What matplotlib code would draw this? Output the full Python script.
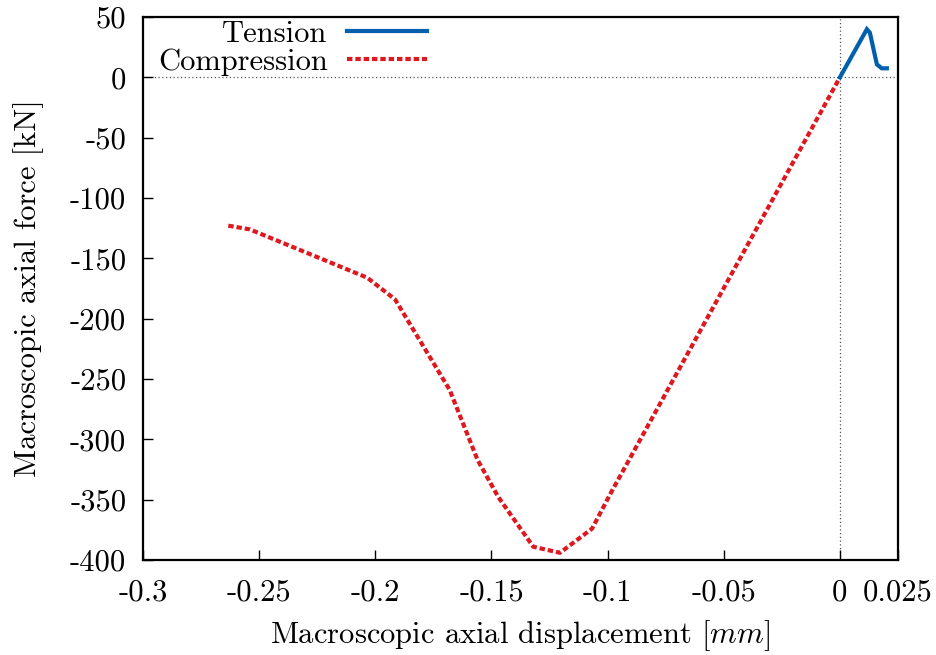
import matplotlib
matplotlib.use('Agg')
import matplotlib.pyplot as plt

plt.rcParams['font.family'] = 'serif'
plt.rcParams['font.serif'] = ['cmr10', 'DejaVu Serif']
plt.rcParams['mathtext.fontset'] = 'cm'
plt.rcParams['axes.unicode_minus'] = False

# Данные кривых (читаются с графика)
tension_x = [0.0, 0.0116, 0.0129, 0.0159, 0.0180, 0.0202]
tension_y = [0.0, 39.9, 37.0, 10.8, 7.5, 7.5]

compression_x = [-0.2633, -0.254, -0.2035, -0.1915, -0.168, -0.156, -0.147,
                 -0.132, -0.1205, -0.1067, -0.0985, 0.0]
compression_y = [-122.9, -126.0, -166.0, -184.0, -259.0, -317.0, -348.0,
                 -389.0, -394.0, -374.0, -344.0, 0.0]

x_ticks = [-0.3, -0.25, -0.2, -0.15, -0.1, -0.05, 0.0, 0.025]
x_tick_labels = ['-0.3', '-0.25', '-0.2', '-0.15', '-0.1', '-0.05', '0', '0.025']
y_ticks = [-400, -350, -300, -250, -200, -150, -100, -50, 0, 50]
y_tick_labels = [str(v) for v in y_ticks]

fig = plt.figure(figsize=(9.36, 6.55), dpi=100)
ax = fig.add_axes([0.1528, 0.145, 0.8066, 0.829])

# Нулевые оси
ax.axhline(0, color='#555555', linestyle=(0, (1, 2)), linewidth=0.9, zorder=1)
ax.axvline(0, color='#555555', linestyle=(0, (1, 2)), linewidth=0.9, zorder=1)

ax.plot(tension_x, tension_y, color='#0060ad', linewidth=3, label='Tension',
        solid_joinstyle='miter', zorder=3)
ax.plot(compression_x, compression_y, color='#dd181f', linewidth=3,
        linestyle=(0, (1.3, 0.7)), label='Compression', zorder=2)

ax.set_xlim(-0.3, 0.025)
ax.set_ylim(-400, 50)
ax.set_xticks(x_ticks)
ax.set_xticklabels(x_tick_labels)
ax.set_yticks(y_ticks)
ax.set_yticklabels(y_tick_labels)
ax.tick_params(direction='in', length=7, width=1, labelsize=22,
               top=False, right=False)
ax.tick_params(axis='x', pad=14)
ax.tick_params(axis='y', pad=12)

for sp in ax.spines.values():
    sp.set_linewidth(1.6)

ax.set_xlabel('Macroscopic axial displacement [$mm$]', fontsize=22, labelpad=8)
ax.set_ylabel('Macroscopic axial force [kN]', fontsize=22, labelpad=19)

ax.legend(loc='upper right', bbox_to_anchor=(0.376, 0.994), frameon=False,
          markerfirst=False, fontsize=22, handlelength=2.6, handletextpad=0.65,
          labelspacing=0.02, borderaxespad=0, borderpad=0)

fig.savefig('out.png', dpi=100)
